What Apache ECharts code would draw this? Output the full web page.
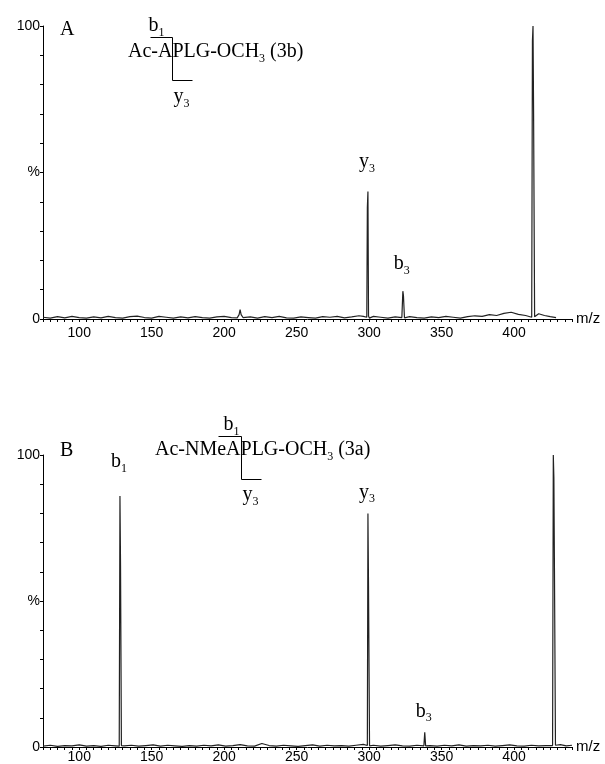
<!DOCTYPE html>
<html><head><meta charset="utf-8">
<script src="https://cdn.jsdelivr.net/npm/echarts@6/dist/echarts.min.js"></script>
<style>html,body{margin:0;padding:0;background:#fff}#c{width:605px;height:764px}</style>
</head><body><div id="c"></div>
<script>
// ---- data ----
const mzA = [75,80,85,90,95,100,105,110,115,120,125,130,135,140,145,150,155,160,165,170,175,180,185,190,195,200,205,209,210.3,211,211.7,213,218,223,228,233,238,243,248,253,258,263,268,273,278,283,288,293,296,298.4,298.8,299.2,299.6,300.2,303,308,313,318,322.6,323.3,323.7,324.4,328,333,338,343,348,353,358,363,368,373,378,383,388,393,398,403,408,412.2,412.7,413.1,413.5,414.2,417,421,425,429];
const intA = [0.6,0.3,0.8,0.4,0.9,0.5,0.3,0.7,0.4,0.9,0.5,0.3,0.8,1.0,0.5,0.3,0.9,0.6,0.3,0.7,0.4,0.8,0.5,0.3,0.7,0.9,0.5,0.4,1.5,3.2,1.5,0.5,0.7,0.3,0.8,0.5,0.9,0.4,0.3,0.7,0.5,0.3,0.8,0.6,0.9,0.4,0.7,1.1,0.9,0.6,38,43.5,1.0,0.3,0.9,0.6,0.3,0.7,0.5,9.5,8.0,0.4,0.8,0.5,0.3,0.7,0.5,0.9,0.6,0.3,0.8,1.1,0.9,1.5,1.2,1.9,2.3,1.6,1.2,0.6,95,100,70,0.8,1.8,1.2,0.8,0.5];
const mzB = [75,80,85,90,95,100,105,110,115,120,125,127.6,128.1,128.5,129.1,131,136,141,146,151,156,161,166,171,176,181,186,191,196,201,206,211,216,221,226,231,236,241,246,251,256,261,266,271,276,281,286,291,296,298.8,299.2,299.6,300.3,303,308,313,318,323,328,333,337.8,338.4,339,342,347,352,357,362,367,372,377,382,387,392,397,402,407,412,417,422,426.6,427.1,427.5,427.9,428.6,432,436,440];
const intB = [0.3,0.6,0.2,0.5,0.4,0.7,0.3,0.5,0.2,0.6,0.4,0.3,86,62,0.5,0.4,0.6,0.3,0.5,0.7,0.3,0.6,0.4,0.2,0.5,0.3,0.6,0.4,0.7,0.3,0.5,0.8,0.4,0.3,1.2,0.5,0.3,0.6,0.4,0.2,0.5,0.7,0.3,0.6,0.4,0.5,0.3,0.6,0.9,0.5,80,55,0.4,0.6,0.3,0.5,0.7,0.4,0.3,0.6,0.4,5,0.4,0.5,0.3,0.6,0.4,0.7,0.3,0.5,0.4,0.6,0.3,0.5,0.7,0.4,0.3,0.6,0.4,0.5,0.5,100,92,60,0.6,0.8,0.4,0.6];
const xTickLabels = [100,150,200,250,300,350,400];
const yTickLabels = {0:'0', 50:'%', 100:'100'};
const peakLabelsA = [{mz:299.2, val:43.5, main:'y', sub:'3'}, {mz:323.3, val:9.5, main:'b', sub:'3'}];
const peakLabelsB = [{mz:128.1, val:86, main:'b', sub:'1'}, {mz:299.2, val:80, main:'y', sub:'3'}, {mz:338.4, val:5, main:'b', sub:'3'}];
const panelNames = ['A', 'B'];
const peptides = [
  {pre:'Ac-A', post:'PLG-OCH', sub:'3', tail:' (3b)'},
  {pre:'Ac-NMeA', post:'PLG-OCH', sub:'3', tail:' (3a)'}
];

// ---- chart ----
const SANS = '"Liberation Sans", Arial, sans-serif';
const SERIF = '"Liberation Serif", "Times New Roman", serif';
const chart = echarts.init(document.getElementById('c'), null, {renderer:'canvas'});

function xAxisCfg(gi, margin){
  return {type:'value', gridIndex:gi, min:75, max:440, interval:5,
    name:'m/z', nameLocation:'end', nameGap:4,
    nameTextStyle:{fontFamily:SANS, fontSize:15, color:'#000'},
    axisLine:{onZero:false, lineStyle:{color:'#000', width:1}},
    axisTick:{show:true, length:3, lineStyle:{color:'#000', width:1}},
    axisLabel:{formatter: v => xTickLabels.includes(v) ? String(v) : '', fontFamily:SANS, fontSize:14, color:'#000', margin:margin},
    splitLine:{show:false}};
}
function yAxisCfg(gi){
  return {type:'value', gridIndex:gi, min:0, max:100, interval:10,
    axisLine:{show:true, lineStyle:{color:'#000', width:1}},
    axisTick:{show:true, length:3, lineStyle:{color:'#000', width:1}},
    axisLabel:{formatter: v => (yTickLabels[v] !== undefined ? yTickLabels[v] : ''), fontFamily:SANS, fontSize:14, color:'#000', margin:3},
    splitLine:{show:false}};
}
function zip(a, b){ return a.map((x, i) => [x, b[i]]); }

chart.setOption({
  animation:false,
  backgroundColor:'#fff',
  grid:[{left:43, top:26, width:529, height:293}, {left:43, top:455, width:529, height:302}],
  xAxis:[xAxisCfg(0, 7), xAxisCfg(1, 3)],
  yAxis:[yAxisCfg(0), yAxisCfg(1)],
  series:[
    {type:'line', xAxisIndex:0, yAxisIndex:0, data:zip(mzA, intA), showSymbol:false, lineStyle:{color:'#222', width:1.2}},
    {type:'line', xAxisIndex:1, yAxisIndex:1, data:zip(mzB, intB), showSymbol:false, lineStyle:{color:'#222', width:1.2}}
  ]
});

// ---- annotations ----
const mctx = document.createElement('canvas').getContext('2d');
function tw(s, size){ mctx.font = size + 'px ' + SERIF; return mctx.measureText(s).width; }
function txt(x, yMid, s, size){
  return {type:'text', x:x, y:yMid, silent:true,
    style:{text:s, fontSize:size, fontFamily:SERIF, fill:'#000', align:'left', verticalAlign:'middle'}};
}
// parts: [[text, isSub]]
function richLine(x, baseline, parts, size, align){
  const subSize = Math.round(size * 0.62);
  const widths = parts.map(p => tw(p[0], p[1] ? subSize : size));
  const total = widths.reduce((a, b) => a + b, 0);
  let cur = align === 'center' ? x - total / 2 : x;
  const els = [];
  parts.forEach((p, i) => {
    if (p[1]) {
      const sb = baseline + 0.2 * size;
      els.push(txt(cur, sb - 0.35 * subSize, p[0], subSize));
    } else {
      els.push(txt(cur, baseline - 0.35 * size, p[0], size));
    }
    cur += widths[i];
  });
  return els;
}
function line(x1, y1, x2, y2){
  return {type:'line', silent:true, shape:{x1:x1, y1:y1, x2:x2, y2:y2}, style:{stroke:'#000', lineWidth:1}};
}

const FS = 20;
const els = [];
// panel letters
els.push(...richLine(60, 37, [[panelNames[0], false]], FS, 'left'));
els.push(...richLine(60, 458, [[panelNames[1], false]], FS, 'left'));

// peptide labels with fragmentation brackets
const pepLayout = [
  {x:128, base:59, top:37, bot:80, b1base:33, y3base:104, left:22, right:20, b1dx:-16, y3dx:9},
  {x:155, base:457, top:436, bot:479, b1base:432, y3base:502, left:23, right:20, b1dx:-10, y3dx:9}
];
peptides.forEach((p, i) => {
  const L = pepLayout[i];
  els.push(...richLine(L.x, L.base, [[p.pre + p.post, false], [p.sub, true], [p.tail, false]], FS, 'left'));
  const vx = Math.round(L.x + tw(p.pre, FS)) + 0.5;
  els.push(line(vx - L.left, L.top + 0.5, vx, L.top + 0.5));
  els.push(line(vx, L.top + 0.5, vx, L.bot + 0.5));
  els.push(line(vx, L.bot + 0.5, vx + L.right, L.bot + 0.5));
  els.push(...richLine(vx + L.b1dx, L.b1base, [['b', false], ['1', true]], FS, 'center'));
  els.push(...richLine(vx + L.y3dx, L.y3base, [['y', false], ['3', true]], FS, 'center'));
});

// peak labels, anchored to peak tops via the axes
const offA = [23, 20];
const offB = [27, 14, 14];
peakLabelsA.forEach((pk, i) => {
  const pt = chart.convertToPixel({gridIndex:0}, [pk.mz, pk.val]);
  els.push(...richLine(pt[0] - 1, pt[1] - offA[i], [[pk.main, false], [pk.sub, true]], FS, 'center'));
});
peakLabelsB.forEach((pk, i) => {
  const pt = chart.convertToPixel({gridIndex:1}, [pk.mz, pk.val]);
  els.push(...richLine(pt[0] - 1, pt[1] - offB[i], [[pk.main, false], [pk.sub, true]], FS, 'center'));
});

chart.setOption({graphic:{elements:els}});
</script>
</body></html>
